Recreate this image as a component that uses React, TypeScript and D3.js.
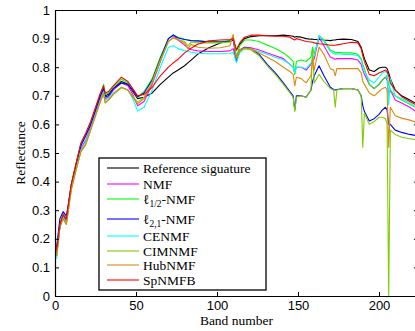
import { useEffect, useRef } from "react";
import * as d3 from "d3";

// band numbers shared by all series
const bands = [
  1, 3, 5, 7, 8, 10, 13, 16, 19, 22,
  25, 28, 30, 31, 33, 36, 41, 45, 48, 51,
  55, 60, 65, 70, 73, 76, 80, 82, 84, 88,
  95, 102, 108, 110, 112, 114, 117, 121, 126, 131,
  136, 141, 145, 147, 148, 149, 152, 155, 158, 159,
  160, 163, 166, 170, 172, 173, 174, 178, 183, 187,
  189, 190, 191, 194, 197, 200, 202, 204, 205, 206,
  207, 210, 214, 219, 224,
];

const refSignature = [
  0.15, 0.24, 0.28, 0.265, 0.3, 0.385, 0.46, 0.53, 0.565, 0.6,
  0.65, 0.7, 0.725, 0.7, 0.705, 0.725, 0.75, 0.74, 0.715, 0.69,
  0.695, 0.71, 0.74, 0.765, 0.78, 0.79, 0.805, 0.815, 0.825, 0.845,
  0.868, 0.885, 0.893, 0.895, 0.86, 0.88, 0.9, 0.907, 0.91, 0.91,
  0.91, 0.912, 0.91, 0.908, 0.905, 0.907, 0.905, 0.9, 0.898, 0.898,
  0.897, 0.897, 0.895, 0.893, 0.895, 0.895, 0.897, 0.898, 0.897, 0.89,
  0.87, 0.85, 0.83, 0.79, 0.785, 0.797, 0.8, 0.8, 0.795, 0.78,
  0.76, 0.72, 0.7, 0.685, 0.67,
];

const nmf = [
  0.14, 0.245, 0.28, 0.26, 0.3, 0.38, 0.45, 0.515, 0.545, 0.59,
  0.64, 0.69, 0.72, 0.69, 0.695, 0.72, 0.745, 0.735, 0.705, 0.665,
  0.68, 0.74, 0.82, 0.9, 0.91, 0.895, 0.877, 0.868, 0.862, 0.857,
  0.855, 0.855, 0.857, 0.865, 0.82, 0.855, 0.87, 0.868, 0.86, 0.85,
  0.84, 0.83, 0.81, 0.8, 0.78, 0.8, 0.8, 0.79, 0.81, 0.82,
  0.83, 0.905, 0.875, 0.835, 0.83, 0.828, 0.83, 0.83, 0.83, 0.825,
  0.81, 0.79, 0.775, 0.74, 0.725, 0.74, 0.755, 0.765, 0.755, 0.7,
  0.72, 0.685, 0.675, 0.66, 0.64,
];

const l12nmf = [
  0.16, 0.25, 0.29, 0.27, 0.31, 0.39, 0.46, 0.53, 0.565, 0.605,
  0.655, 0.705, 0.74, 0.705, 0.71, 0.73, 0.758, 0.745, 0.72, 0.695,
  0.715, 0.76, 0.835, 0.9, 0.913, 0.905, 0.898, 0.895, 0.893, 0.892,
  0.89, 0.89, 0.892, 0.902, 0.835, 0.875, 0.895, 0.895, 0.89, 0.878,
  0.865, 0.85, 0.832, 0.82, 0.775, 0.82, 0.825, 0.82, 0.835, 0.87,
  0.845, 0.91, 0.895, 0.86, 0.855, 0.85, 0.852, 0.85, 0.85, 0.845,
  0.83, 0.81, 0.795, 0.74, 0.725, 0.74, 0.755, 0.765, 0.77, 0.74,
  0.72, 0.7, 0.685, 0.67, 0.655,
];

const l21nmf = [
  0.17, 0.27, 0.295, 0.28, 0.31, 0.385, 0.455, 0.525, 0.56, 0.6,
  0.65, 0.7, 0.725, 0.695, 0.7, 0.725, 0.745, 0.74, 0.72, 0.697,
  0.71, 0.755, 0.83, 0.9, 0.913, 0.902, 0.897, 0.895, 0.893, 0.892,
  0.888, 0.888, 0.89, 0.895, 0.825, 0.86, 0.87, 0.865, 0.845, 0.81,
  0.78, 0.745, 0.715, 0.7, 0.65, 0.7, 0.7, 0.695, 0.72, 0.75,
  0.77, 0.805, 0.77, 0.73, 0.722, 0.72, 0.722, 0.725, 0.725, 0.72,
  0.7, 0.665, 0.645, 0.612, 0.62, 0.635, 0.65, 0.66, 0.65, 0.6,
  0.6, 0.58, 0.572, 0.565, 0.56,
];

const cenmf = [
  0.13, 0.24, 0.275, 0.255, 0.295, 0.375, 0.445, 0.51, 0.54, 0.585,
  0.635, 0.685, 0.715, 0.685, 0.69, 0.71, 0.73, 0.72, 0.69, 0.647,
  0.66, 0.72, 0.8, 0.87, 0.875, 0.865, 0.858, 0.855, 0.852, 0.849,
  0.847, 0.847, 0.848, 0.852, 0.815, 0.85, 0.865, 0.862, 0.855, 0.845,
  0.835, 0.825, 0.81, 0.8, 0.78, 0.8, 0.8, 0.795, 0.815, 0.83,
  0.84, 0.91, 0.89, 0.855, 0.848, 0.845, 0.847, 0.845, 0.845, 0.84,
  0.825, 0.8, 0.785, 0.755, 0.745, 0.765, 0.78, 0.785, 0.78, 0.67,
  0.76, 0.7, 0.69, 0.675, 0.655,
];

const cimnmf = [
  0.14, 0.245, 0.27, 0.25, 0.29, 0.37, 0.44, 0.505, 0.53, 0.58,
  0.63, 0.68, 0.705, 0.675, 0.685, 0.705, 0.728, 0.72, 0.698, 0.678,
  0.695, 0.75, 0.825, 0.89, 0.903, 0.897, 0.89, 0.875, 0.888, 0.885,
  0.885, 0.885, 0.888, 0.905, 0.83, 0.855, 0.865, 0.86, 0.84, 0.805,
  0.775, 0.74, 0.71, 0.695, 0.645, 0.695, 0.7, 0.695, 0.72, 0.86,
  0.745, 0.775, 0.75, 0.725, 0.72, 0.66, 0.72, 0.725, 0.725, 0.72,
  0.7, 0.52, 0.64, 0.6, 0.61, 0.625, 0.625, 0.62, 0.6, 0.0,
  0.58, 0.565, 0.555, 0.55, 0.545,
];

const hubnmf = [
  0.14, 0.24, 0.27, 0.25, 0.29, 0.37, 0.44, 0.505, 0.53, 0.58,
  0.63, 0.68, 0.71, 0.675, 0.685, 0.705, 0.73, 0.72, 0.695, 0.672,
  0.69, 0.745, 0.82, 0.89, 0.903, 0.895, 0.885, 0.865, 0.88, 0.87,
  0.866, 0.868, 0.875, 0.915, 0.83, 0.86, 0.868, 0.865, 0.85, 0.835,
  0.82, 0.8, 0.785, 0.775, 0.735, 0.765, 0.76, 0.745, 0.77, 0.83,
  0.79, 0.87, 0.845, 0.795, 0.79, 0.77, 0.795, 0.795, 0.795, 0.795,
  0.78, 0.75, 0.74, 0.71, 0.7, 0.715, 0.725, 0.73, 0.72, 0.52,
  0.66, 0.63, 0.622, 0.615, 0.605,
];

const spnmfb = [
  0.16, 0.25, 0.285, 0.27, 0.31, 0.39, 0.465, 0.535, 0.57, 0.61,
  0.66, 0.71, 0.735, 0.71, 0.715, 0.735, 0.765, 0.75, 0.725, 0.7,
  0.705, 0.73, 0.77, 0.8, 0.815, 0.828, 0.85, 0.858, 0.866, 0.88,
  0.892, 0.895, 0.897, 0.9, 0.86, 0.885, 0.905, 0.912, 0.912, 0.91,
  0.908, 0.908, 0.905, 0.898, 0.895, 0.9, 0.895, 0.89, 0.888, 0.887,
  0.885, 0.882, 0.88, 0.877, 0.877, 0.877, 0.878, 0.882, 0.887, 0.885,
  0.865, 0.84, 0.82, 0.775, 0.77, 0.78, 0.785, 0.79, 0.785, 0.77,
  0.745, 0.72, 0.697, 0.68, 0.665,
];

const xTicks = [0, 50, 100, 150, 200];
const yTicks = [0, 0.1, 0.2, 0.3, 0.4, 0.5, 0.6, 0.7, 0.8, 0.9, 1];

// legend labels: [main, subscript, rest]
const series = [
  { name: ["Reference siguature", "", ""], values: refSignature, color: "#000000" },
  { name: ["NMF", "", ""], values: nmf, color: "#ff00ff" },
  { name: ["\u2113", "1/2", "-NMF"], values: l12nmf, color: "#00ff00" },
  { name: ["\u2113", "2,1", "-NMF"], values: l21nmf, color: "#0000ff" },
  { name: ["CENMF", "", ""], values: cenmf, color: "#00ffff" },
  { name: ["CIMNMF", "", ""], values: cimnmf, color: "#7fcc00" },
  { name: ["HubNMF", "", ""], values: hubnmf, color: "#d98a0f" },
  { name: ["SpNMFB", "", ""], values: spnmfb, color: "#ff0000" },
];

export default function App() {
  const chartRef = useRef<SVGSVGElement>(null);

  useEffect(() => {
    if (!chartRef.current) return;
    const svg = d3.select(chartRef.current);
    svg.selectAll("*").remove();

    const serif = "'Liberation Serif', 'Times New Roman', serif";
    const sans = "'Liberation Sans', Arial, sans-serif";

    const left = 55, top = 10, bottom = 296;
    const x = d3.scaleLinear().domain([0, 224]).range([left, left + 224 * 1.62]);
    const y = d3.scaleLinear().domain([0, 1]).range([bottom, top]);

    // lines
    const line = d3
      .line<number>()
      .x((_, i) => x(bands[i]))
      .y((d) => y(d));

    svg.append("g")
      .selectAll("path")
      .data(series)
      .enter()
      .append("path")
      .attr("d", (d) => line(d.values))
      .attr("fill", "none")
      .attr("stroke", (d) => d.color)
      .attr("stroke-width", 1.1)
      .attr("stroke-linejoin", "round");

    // axes (ticks pointing inward)
    const fmt = (d: number) => (d === 0 || d === 1 ? String(d) : d3.format(".1f")(d));

    const gl = svg.append("g")
      .attr("transform", `translate(${left},0)`)
      .call(d3.axisLeft(y).tickValues(yTicks).tickFormat(fmt as any).tickSize(-4).tickSizeOuter(0).tickPadding(5));
    const gb = svg.append("g")
      .attr("transform", `translate(0,${bottom})`)
      .call(d3.axisBottom(x).tickValues(xTicks).tickSize(-4).tickSizeOuter(0).tickPadding(5));
    svg.append("g")
      .attr("transform", `translate(0,${top})`)
      .call(d3.axisTop(x).tickValues(xTicks).tickFormat(() => "").tickSize(-4).tickSizeOuter(0));
    svg.append("g")
      .attr("transform", `translate(${x(224)},0)`)
      .call(d3.axisRight(y).tickValues(yTicks).tickFormat(() => "").tickSize(-4).tickSizeOuter(0));

    [gl, gb].forEach((g) => g.selectAll("text").attr("font-size", 13).attr("font-family", sans).attr("fill", "#000"));
    svg.selectAll(".domain").attr("stroke", "#000").attr("stroke-width", 1.2);
    svg.selectAll(".tick line").attr("stroke", "#000");

    // axis titles
    svg.append("text")
      .attr("x", (left + x(224)) / 2)
      .attr("y", 325)
      .attr("text-anchor", "middle")
      .attr("font-family", serif)
      .attr("font-size", 13.5)
      .text("Band number");

    svg.append("text")
      .attr("transform", `translate(25,${(top + bottom) / 2}) rotate(-90)`)
      .attr("text-anchor", "middle")
      .attr("font-family", serif)
      .attr("font-size", 13.5)
      .text("Reflectance");

    // legend
    const legendRows = [168, 184, 199, 219, 236, 251, 265, 280];
    const lg = svg.append("g");
    lg.append("rect")
      .attr("x", 99)
      .attr("y", 158)
      .attr("width", 167)
      .attr("height", 132)
      .attr("fill", "#fff")
      .attr("stroke", "#000")
      .attr("stroke-width", 1.3);

    const item = lg.selectAll("g.item")
      .data(series)
      .enter()
      .append("g")
      .attr("class", "item")
      .attr("transform", (_, i) => `translate(0,${legendRows[i]})`);

    item.append("line")
      .attr("x1", 107)
      .attr("x2", 139)
      .attr("stroke", (d) => d.color)
      .attr("stroke-width", 1.1);

    const t = item.append("text")
      .attr("x", 143)
      .attr("dy", "0.35em")
      .attr("font-family", serif)
      .attr("font-size", 13.5);
    t.append("tspan").text((d) => d.name[0]);
    t.filter((d) => d.name[1] !== "")
      .append("tspan")
      .attr("font-size", 9.5)
      .attr("dy", 3)
      .text((d) => d.name[1]);
    t.filter((d) => d.name[2] !== "")
      .append("tspan")
      .attr("dy", -3)
      .text((d) => d.name[2]);
  }, []);

  return (
    <div style={{ position: "absolute", left: 0, top: 0 }}>
      <svg ref={chartRef} width={415} height={331} style={{ display: "block", background: "#fff" }} />
    </div>
  );
}
